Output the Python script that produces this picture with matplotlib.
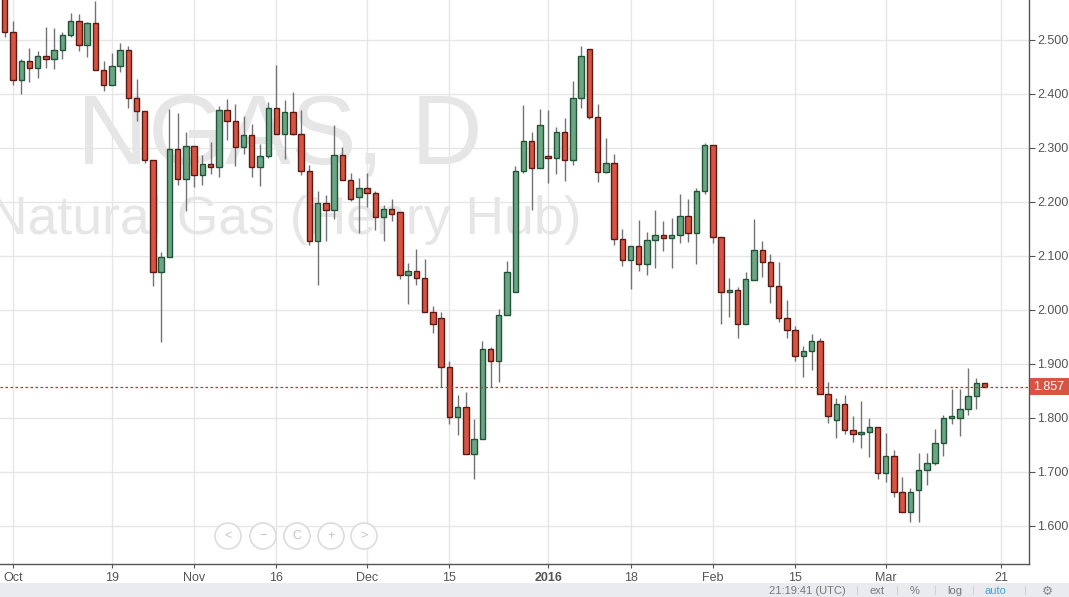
#!/usr/bin/env python
# encoding: utf-8

import numpy as np
import matplotlib as mpl
mpl.use('Agg')
import matplotlib.pyplot as plt
from matplotlib.patches import Ellipse, Rectangle

mpl.rc('font', family='Liberation Sans')

# Daily candles, NGAS (Natural Gas, Henry Hub), Sep 30 2015 -> Mar 17 2016
opens = [2.600, 2.515, 2.426, 2.461, 2.448, 2.470, 2.465, 2.481, 2.509, 2.535,
         2.491, 2.531, 2.444, 2.417, 2.452, 2.481, 2.393, 2.369, 2.278, 2.070,
         2.098, 2.298, 2.243, 2.304, 2.250, 2.270, 2.265, 2.370, 2.350, 2.302,
         2.324, 2.265, 2.285, 2.374, 2.326, 2.367, 2.326, 2.257, 2.128, 2.198,
         2.185, 2.287, 2.241, 2.209, 2.226, 2.217, 2.172, 2.187, 2.181, 2.065,
         2.072, 2.059, 1.996, 1.985, 1.894, 1.802, 1.820, 1.733, 1.761, 1.928,
         1.906, 1.991, 2.033, 2.257, 2.313, 2.263, 2.285, 2.281, 2.330, 2.278,
         2.393, 2.483, 2.357, 2.256, 2.272, 2.131, 2.093, 2.119, 2.085, 2.130,
         2.139, 2.133, 2.139, 2.174, 2.143, 2.220, 2.306, 2.135, 2.033, 2.037,
         1.974, 2.056, 2.111, 2.089, 2.044, 1.985, 1.963, 1.915, 1.924, 1.943,
         1.844, 1.796, 1.826, 1.778, 1.770, 1.774, 1.783, 1.698, 1.730, 1.663,
         1.626, 1.667, 1.704, 1.717, 1.754, 1.800, 1.800, 1.817, 1.841, 1.865]
highs = [2.610, 2.535, 2.465, 2.485, 2.480, 2.524, 2.522, 2.515, 2.550, 2.548,
         2.533, 2.572, 2.461, 2.476, 2.494, 2.489, 2.428, 2.369, 2.278, 2.107,
         2.372, 2.365, 2.330, 2.304, 2.287, 2.311, 2.378, 2.391, 2.381, 2.359,
         2.344, 2.307, 2.385, 2.454, 2.389, 2.404, 2.370, 2.269, 2.220, 2.213,
         2.343, 2.302, 2.254, 2.244, 2.254, 2.220, 2.194, 2.206, 2.181, 2.087,
         2.113, 2.094, 2.007, 1.996, 1.906, 1.843, 1.848, 1.798, 1.943, 1.931,
         2.002, 2.091, 2.267, 2.380, 2.330, 2.372, 2.370, 2.339, 2.356, 2.424,
         2.489, 2.483, 2.381, 2.319, 2.289, 2.150, 2.119, 2.167, 2.144, 2.185,
         2.165, 2.170, 2.215, 2.206, 2.226, 2.309, 2.306, 2.135, 2.059, 2.043,
         2.070, 2.169, 2.128, 2.104, 2.089, 2.019, 1.970, 1.933, 1.956, 1.948,
         1.867, 1.837, 1.843, 1.804, 1.831, 1.800, 1.783, 1.772, 1.741, 1.691,
         1.670, 1.735, 1.735, 1.780, 1.806, 1.854, 1.854, 1.893, 1.874, 1.865]
lows = [2.506, 2.417, 2.400, 2.422, 2.430, 2.448, 2.446, 2.465, 2.506, 2.480,
        2.469, 2.444, 2.406, 2.417, 2.441, 2.374, 2.350, 2.272, 2.044, 1.941,
        2.098, 2.231, 2.183, 2.228, 2.231, 2.252, 2.246, 2.315, 2.267, 2.289,
        2.246, 2.230, 2.281, 2.326, 2.280, 2.324, 2.250, 2.120, 2.046, 2.128,
        2.169, 2.241, 2.202, 2.143, 2.191, 2.148, 2.128, 2.165, 2.057, 2.011,
        2.046, 1.996, 1.957, 1.857, 1.789, 1.769, 1.733, 1.687, 1.761, 1.857,
        1.867, 1.991, 2.033, 2.254, 2.185, 2.263, 2.235, 2.252, 2.239, 2.269,
        2.374, 2.354, 2.237, 2.254, 2.120, 2.081, 2.039, 2.072, 2.065, 2.078,
        2.109, 2.078, 2.124, 2.126, 2.085, 2.215, 2.124, 1.974, 1.987, 1.948,
        1.974, 2.056, 2.061, 2.013, 1.978, 1.948, 1.905, 1.876, 1.889, 1.844,
        1.791, 1.763, 1.770, 1.756, 1.744, 1.728, 1.687, 1.681, 1.654, 1.626,
        1.607, 1.607, 1.676, 1.713, 1.730, 1.789, 1.767, 1.806, 1.817, 1.857]
closes = [2.515, 2.426, 2.461, 2.448, 2.470, 2.465, 2.481, 2.509, 2.535, 2.491,
          2.531, 2.444, 2.417, 2.452, 2.481, 2.393, 2.369, 2.278, 2.070, 2.098,
          2.298, 2.243, 2.304, 2.250, 2.270, 2.265, 2.370, 2.350, 2.302, 2.324,
          2.265, 2.285, 2.374, 2.326, 2.367, 2.326, 2.257, 2.128, 2.198, 2.185,
          2.287, 2.241, 2.206, 2.226, 2.217, 2.172, 2.187, 2.178, 2.065, 2.072,
          2.059, 1.996, 1.974, 1.894, 1.802, 1.820, 1.733, 1.761, 1.928, 1.906,
          1.991, 2.070, 2.257, 2.313, 2.263, 2.343, 2.281, 2.330, 2.278, 2.393,
          2.470, 2.357, 2.256, 2.272, 2.131, 2.093, 2.119, 2.085, 2.130, 2.139,
          2.133, 2.139, 2.174, 2.143, 2.220, 2.306, 2.135, 2.033, 2.037, 1.974,
          2.057, 2.111, 2.089, 2.044, 1.985, 1.963, 1.915, 1.924, 1.943, 1.844,
          1.804, 1.826, 1.778, 1.770, 1.774, 1.783, 1.698, 1.730, 1.663, 1.626,
          1.663, 1.704, 1.717, 1.754, 1.800, 1.801, 1.817, 1.841, 1.865, 1.857]

# Date labels on the time axis and the candle index they sit on
date_ticks = [1, 13, 23, 33, 44, 54, 66, 76, 86, 96, 107, 121]
date_labels = ['Oct', '19', 'Nov', '16', 'Dec', '15', '2016', '18', 'Feb', '15', 'Mar', '21']

price_ticks = [1.6, 1.7, 1.8, 1.9, 2.0, 2.1, 2.2, 2.3, 2.4, 2.5]
last_price = 1.857

UP_COL, UP_EDGE = '#6ba583', '#225437'
DOWN_COL, DOWN_EDGE = '#d75442', '#5b1a13'
WICK = '#737375'
GRID = '#e6e6e6'
TEXT = '#555555'
WATERMARK = '#e6e6e6'

W, H = 1069, 597


def fx(px):
    """pixel x -> figure fraction"""
    return px / W


def fy(py):
    """pixel y (from top) -> figure fraction"""
    return 1 - py / H


def main():
    fig = plt.figure(figsize=(W / 100, H / 100), dpi=100)
    fig.patch.set_facecolor('white')

    # Main price pane
    ax = fig.add_axes([0, fy(564), fx(1029), (564) / H])
    o = np.array(opens)
    c = np.array(closes)
    hi = np.array(highs)
    lo = np.array(lows)
    idx = np.arange(len(o))
    up = c >= o

    # Wicks
    ax.vlines(idx, lo, hi, color=WICK, linewidth=1, zorder=2)

    # Bodies, with a minimum height so dojis still show
    bottom = np.minimum(o, c)
    height = np.maximum(np.abs(c - o), 0.004)
    ax.bar(idx[up], height[up], bottom=bottom[up], width=0.66,
           color=UP_COL, edgecolor=UP_EDGE, linewidth=1, zorder=3)
    ax.bar(idx[~up], height[~up], bottom=bottom[~up], width=0.66,
           color=DOWN_COL, edgecolor=DOWN_EDGE, linewidth=1, zorder=3)

    # Last price line
    ax.axhline(last_price, color='#c9302c', linestyle=(0, (2, 2)), linewidth=0.9, zorder=4)

    ax.set_xlim(-0.58, 124.4)
    ax.set_ylim(2.5 - 524 / 540, 2.5 + 40 / 540)

    ax.set_xticks(date_ticks)
    ax.set_xticklabels(date_labels)
    ax.set_yticks(price_ticks)
    ax.set_yticklabels(['%.3f' % p for p in price_ticks])
    ax.yaxis.tick_right()
    ax.tick_params(axis='y', length=4, width=0.8, color='#555555', labelsize=9,
                   labelcolor=TEXT, pad=2)
    ax.tick_params(axis='x', length=3, width=0.8, color='#555555', labelsize=9,
                   labelcolor=TEXT, pad=3)
    for lab in ax.get_xticklabels():
        if lab.get_text() == '2016':
            lab.set_fontweight('bold')

    ax.grid(True, color=GRID, linewidth=1)
    ax.set_axisbelow(True)

    for s in ['left', 'top']:
        ax.spines[s].set_visible(False)
    for s in ['right', 'bottom']:
        ax.spines[s].set_color('#555555')
        ax.spines[s].set_linewidth(1)

    # Watermark (symbol + description), sits behind everything
    ax.text(fx(280), fy(163), 'NGAS, D', transform=fig.transFigure, ha='center', va='baseline',
            fontsize=71, color=WATERMARK, zorder=0)
    ax.text(fx(285), fy(234), 'Natural Gas (Henry Hub)', transform=fig.transFigure,
            ha='center', va='baseline', fontsize=38.5, color=WATERMARK, zorder=0, clip_on=True)

    # Navigation buttons
    for cx, glyph in zip([228, 263, 297, 331, 364], ['<', '\u2212', 'C', '+', '>']):
        fig.patches.append(Ellipse((fx(cx), fy(536)), 26 / W, 26 / H, transform=fig.transFigure,
                                   facecolor='white', edgecolor='#dcdcdc', linewidth=1.2))
        fig.text(fx(cx), fy(536), glyph, ha='center', va='center', fontsize=9, color='#c4c4c4')

    # Last price tag on the price axis
    fig.patches.append(Rectangle((fx(1030), fy(395)), 39 / W, 17 / H, transform=fig.transFigure,
                                 facecolor='#d75442', edgecolor='none', zorder=5))
    fig.text(fx(1049), fy(387), '%.3f' % last_price, ha='center', va='center',
             fontsize=9, color='white', zorder=6)

    # Bottom toolbar
    fig.patches.append(Rectangle((0, 0), 1, 14 / H, transform=fig.transFigure,
                                 facecolor='#e9ebee', edgecolor='none'))
    fig.text(fx(846), fy(591), '21:19:41 (UTC)', ha='right', va='center', fontsize=8, color='#777777')
    fig.text(fx(877), fy(591), 'ext', ha='center', va='center', fontsize=8, color='#777777')
    fig.text(fx(915), fy(591), '%', ha='center', va='center', fontsize=8, color='#777777')
    fig.text(fx(955), fy(591), 'log', ha='center', va='center', fontsize=8, color='#777777')
    fig.text(fx(995), fy(591), 'auto', ha='center', va='center', fontsize=8, color='#3ba6e0')
    fig.text(fx(1047), fy(591), '\u2699', ha='center', va='center', fontsize=9, color='#888888',
             family='DejaVu Sans')
    for sx in [857, 897, 935, 973, 1025]:
        fig.lines.append(plt.Line2D([fx(sx), fx(sx)], [fy(594), fy(586)], transform=fig.transFigure,
                                    color='#cfd2d6', linewidth=0.8))

    plt.savefig('out.png', dpi=100)
    plt.close()


if __name__ == '__main__':
    main()
